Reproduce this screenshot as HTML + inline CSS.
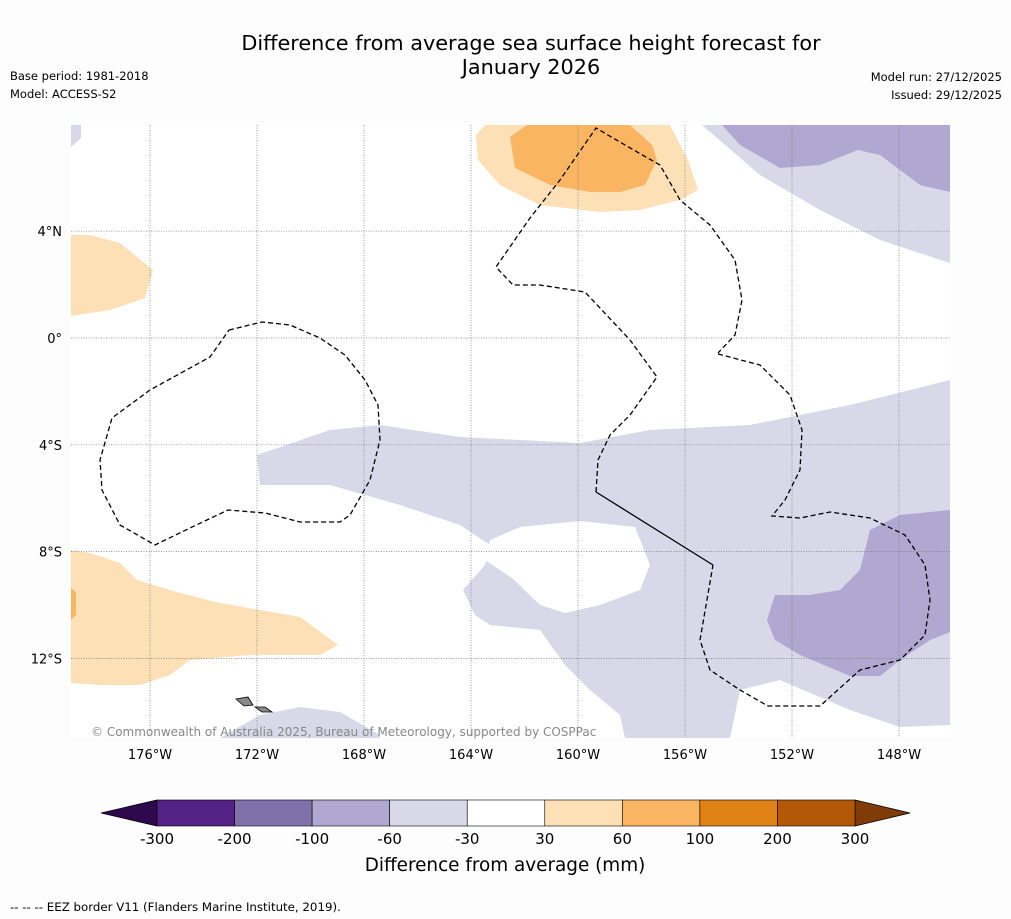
<!DOCTYPE html>
<html><head><meta charset="utf-8"><style>
body{margin:0;background:#fdfdfd;font-family:"DejaVu Sans","Liberation Sans",sans-serif;}
svg{display:block;font-family:"DejaVu Sans","Liberation Sans",sans-serif;}
</style></head><body>
<svg id="chart" width="1011" height="919" viewBox="0 0 1011 919">
<rect x="0" y="0" width="1011" height="919" fill="#fdfdfd"/>
<text x="531" y="50" font-size="20.8" text-anchor="middle" fill="#000">Difference from average sea surface height forecast for</text>
<text x="531" y="74" font-size="20.8" text-anchor="middle" fill="#000">January 2026</text>
<text x="10" y="80" font-size="11.5">Base period: 1981-2018</text>
<text x="10" y="98" font-size="11.5">Model: ACCESS-S2</text>
<text x="1002" y="81" font-size="11.5" text-anchor="end">Model run: 27/12/2025</text>
<text x="1002" y="99" font-size="11.5" text-anchor="end">Issued: 29/12/2025</text>
<g>
<rect x="71" y="125" width="879" height="613" fill="#fff"/>
<clipPath id="mc"><rect x="71" y="125" width="879" height="613"/></clipPath>
<g clip-path="url(#mc)">
<polygon fill="#d8d8e9" points="257,455 330,430 380,425 460,437 580,443 650,430 750,425 850,405 950,380 950,725 900,727 850,710 780,680 740,690 730,738 625,738 620,715 590,690 565,665 540,630 490,625 475,615 463,590 485,565 490,545 460,525 400,505 330,485 260,485"/>
<polygon fill="#fff" points="485,560 490,540 520,527 580,521 635,527 650,565 640,590 600,605 565,613 540,605 512,578"/>
<polygon fill="#b0a8d0" points="775,595 810,595 840,590 860,570 870,530 900,515 950,510 950,632 930,640 900,660 880,676 850,676 800,655 775,640 767,620"/>
<polygon fill="#d8d8e9" points="702,125 950,125 950,263 880,240 820,210 760,175"/>
<polygon fill="#b0a8d0" points="722,125 950,125 950,192 920,185 880,155 858,150 820,165 780,168 740,145"/>
<polygon fill="#d8d8e9" points="71,125 81,125 81,138 71,147"/>
<polygon fill="#d8d8e9" points="220,738 260,715 300,707 340,712 380,735 380,738"/>
<polygon fill="#fde0b5" points="485,125 670,125 688,160 698,190 680,200 640,210 600,212 540,205 500,185 478,160 476,135"/>
<polygon fill="#fab562" points="510,137 527,125 630,125 652,145 657,160 645,185 620,192 590,192 550,185 515,168"/>
<polygon fill="#fde0b5" points="71,235 90,235 120,243 153,270 145,298 110,310 71,316"/>
<polygon fill="#fde0b5" points="71,550 90,553 120,563 137,580 170,590 215,602 260,610 300,617 338,645 320,655 250,655 190,660 170,675 140,685 100,685 71,683"/>
<polygon fill="#fab562" points="71,588 76,592 76,615 71,620"/>
<g id="grid" stroke="#777" stroke-width="0.7" stroke-dasharray="1,1.5"></g>
<polyline fill="none" stroke="#000" stroke-width="1.3" stroke-dasharray="5,3" points="596,492 598,460 610,435 630,415 657,377 630,340 585,292 540,285 513,285 496,267 530,218 560,180 596,128 625,145 660,165 680,200 710,225 735,260 742,300 735,335 718,353"/>
<polyline fill="none" stroke="#000" stroke-width="1.3" stroke-dasharray="5,3" points="718,354 760,365 790,395 802,430 800,470 785,500 772,516 800,518 830,512 870,518 905,535 925,565 930,600 925,635 900,660 860,670 820,706 768,706 740,690 710,670 700,640 713,565"/>
<polyline fill="none" stroke="#000" stroke-width="1.3" points="596,492 713,565"/>
<polyline fill="none" stroke="#000" stroke-width="1.3" stroke-dasharray="5,3" points="229,330 262,322 290,325 320,338 345,355 365,380 378,405 380,440 370,480 350,515 340,522 300,522 265,513 228,510 190,528 155,545 120,525 102,490 100,460 112,418 150,390 210,357 229,330"/>
<polygon fill="#888" stroke="#000" stroke-width="0.8" points="236,699 248,697 253,705 244,706"/>
<polygon fill="#888" stroke="#000" stroke-width="0.8" points="255,707 265,707 272,712 262,712"/>
</g>
<text x="91" y="736" font-size="12" fill="#888">© Commonwealth of Australia 2025, Bureau of Meteorology, supported by COSPPac</text>
</g>
<g id="axes"></g>
<g id="cbar"></g>
<text x="505" y="871" font-size="18.4" text-anchor="middle">Difference from average (mm)</text>
<text x="10" y="911" font-size="11.8">-- -- -- EEZ border V11 (Flanders Marine Institute, 2019).</text>
</svg>
<script>
const lonTicks=[-176,-172,-168,-164,-160,-156,-152,-148];
const latTicks=[4,0,-4,-8,-12];
const levels=[-300,-200,-100,-60,-30,30,60,100,200,300];
const levelColors=["#542185","#8071ab","#b0a8d0","#d8d8e9","#ffffff","#fde0b5","#fab562","#e08214","#b35806"];
const extColors=["#2d0a4e","#7f3b08"];
const NS="http://www.w3.org/2000/svg";
function lonX(l){return 150+(l+176)*26.75;}
function latY(l){return 338-l*26.7;}
function mk(t,a,p){const e=document.createElementNS(NS,t);for(const k in a)e.setAttribute(k,a[k]);p.appendChild(e);return e;}
const grid=document.getElementById('grid'),axes=document.getElementById('axes');
lonTicks.forEach(l=>{
 const x=lonX(l);
 const g=mk('line',{x1:x,x2:x,y1:125,y2:738},grid);
 
 
 const t=mk('text',{x:x,y:759,'font-size':13,'text-anchor':'middle'},axes);
 t.textContent=Math.abs(l)+'°W';
 
 
});
latTicks.forEach(l=>{
 const y=latY(l);
 const g=mk('line',{x1:71,x2:950,y1:y,y2:y},grid);
 
 
 const t=mk('text',{x:62,y:y+5,'font-size':13,'text-anchor':'end'},axes);
 t.textContent=l===0?'0°':Math.abs(l)+'°'+(l>0?'N':'S');
 
 
});
const cb=document.getElementById('cbar');
const cx0=157,cx1=855,cy=800,ch=26,n=levelColors.length,w=(cx1-cx0)/n;
const le=mk('polygon',{points:`${cx0},${cy} ${cx0},${cy+ch} 101,${cy+ch/2}`,fill:extColors[0],stroke:'#000','stroke-width':0.8},cb);


const re=mk('polygon',{points:`${cx1},${cy} ${cx1},${cy+ch} 910,${cy+ch/2}`,fill:extColors[1],stroke:'#000','stroke-width':0.8},cb);


levelColors.forEach((c,i)=>{
 const r=mk('rect',{x:cx0+i*w,y:cy,width:w,height:ch,fill:c,stroke:'#000','stroke-width':0.6},cb);
 
 
});
levels.forEach((v,i)=>{
 const t=mk('text',{x:cx0+i*w,y:844,'font-size':15,'text-anchor':'middle'},cb);
 t.textContent=v;
 
 
});
</script>
</body></html>
